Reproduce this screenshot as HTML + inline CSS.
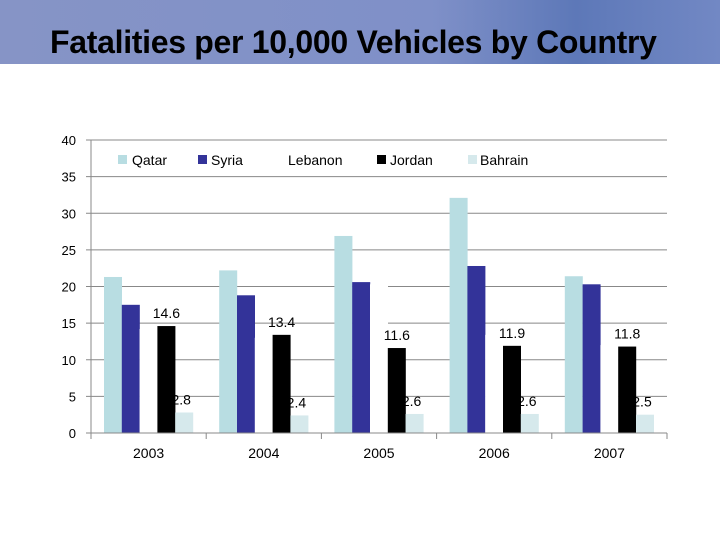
<!DOCTYPE html>
<html><head><meta charset="utf-8"><style>
body{margin:0;width:720px;height:540px;background:#fff;overflow:hidden;font-family:"Liberation Sans",sans-serif;}
#banner{position:absolute;left:0;top:0;width:720px;height:64px;background:linear-gradient(90deg,#8694c6 0%,#7f90c8 60%,#5d78b8 80%,#7288c4 100%);}
#title{position:absolute;left:50px;top:24px;font-size:32px;font-weight:bold;color:#000;white-space:nowrap;letter-spacing:-0.3px;}
svg{position:absolute;left:0;top:0;}
</style></head><body>
<div id="banner"></div>
<div id="title">Fatalities per 10,000 Vehicles by Country</div>
<svg id="chart" width="720" height="540"></svg>
<script>
const years=["2003","2004","2005","2006","2007"];
const seriesNames=["Qatar","Syria","Lebanon","Jordan","Bahrain"];
const qatar=[21.3,22.2,26.9,32.1,21.4];
const syria=[17.5,18.8,20.6,22.8,20.3];
const lebanon=[14.2,13.0,20.3,13.4,12.0];
const jordan=[14.6,13.4,11.6,11.9,11.8];
const bahrain=[2.8,2.4,2.6,2.6,2.5];
const yTicks=[0,5,10,15,20,25,30,35,40];
const colors=["#b8dde2","#333399","#ffffff","#000000","#d6e9ec"];
const NS="http://www.w3.org/2000/svg";
const svg=document.getElementById('chart');
const X0=91,X1=667,Y0=433,Y1=140,YMAX=40;
const y=v=>Y0-(v/YMAX)*(Y0-Y1);
const gw=(X1-X0)/years.length;
const bw=18;
const bx=(i,s)=>X0+gw*i+13+s*bw-s*0.2;
function el(t,a,txt){const e=document.createElementNS(NS,t);for(const k in a)e.setAttribute(k,a[k]);if(txt!==undefined)e.textContent=txt;svg.appendChild(e);return e;}
yTicks.forEach(t=>{
 const g=el('line',{x1:X0-5,x2:X1,y1:y(t),y2:y(t),stroke:'#888','stroke-width':1});
 
 
 const l=el('text',{x:76,y:y(t)+5,'text-anchor':'end','font-size':13,fill:'#000'},String(t));
 
 
});
const ax=el('line',{x1:X0,x2:X0,y1:Y1,y2:Y0,stroke:'#888'});


years.forEach((yr,i)=>{
 const tk=el('line',{x1:X0+gw*i,x2:X0+gw*i,y1:Y0,y2:Y0+6,stroke:'#888'});
 
 
 const t=el('text',{x:X0+gw*(i+0.5),y:Y0+25,'text-anchor':'middle','font-size':14},yr);
 
 
});
const tk=el('line',{x1:X1,x2:X1,y1:Y0,y2:Y0+6,stroke:'#888'});


const all=[qatar,syria,lebanon,jordan,bahrain];
all.forEach((arr,s)=>{
 arr.forEach((v,i)=>{
  const r=el('rect',{x:bx(i,s),y:y(v),width:bw,height:Y0-y(v),fill:colors[s]});
  
  
 });
});
const xa=el('line',{x1:X0,x2:X1,y1:Y0,y2:Y0,stroke:'#888'});


jordan.forEach((v,i)=>{
 const t=el('text',{x:bx(i,3)+bw/2,y:y(v)-8,'text-anchor':'middle','font-size':14},v.toFixed(1));
 
 
});
bahrain.forEach((v,i)=>{
 const t=el('text',{x:bx(i,4)+bw/2-3,y:y(v)-8,'text-anchor':'middle','font-size':14},v.toFixed(1));
 
 
});
const lg=[[118,132],[198,211],[null,288],[377,390],[468,480]];
seriesNames.forEach((n,s)=>{
 if(lg[s][0]!==null){
  const r=el('rect',{x:lg[s][0],y:155,width:9,height:9,fill:colors[s]});
  
  
 }
 const t=el('text',{x:lg[s][1],y:165,'font-size':14},n);
 
 
});
</script>
</body></html>
